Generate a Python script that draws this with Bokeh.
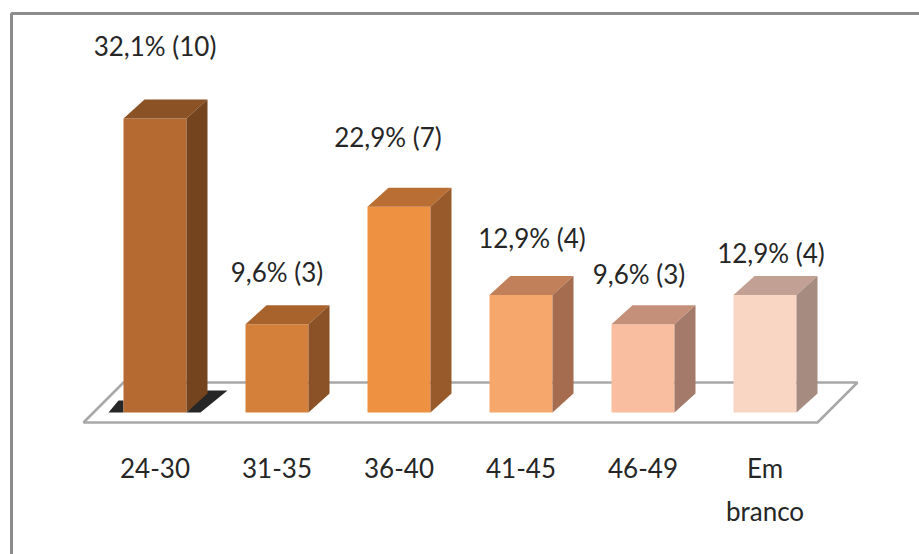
from bokeh.plotting import figure
from bokeh.models import Range1d
from bokeh.core.properties import value
from bokeh.embed import file_html
from bokeh.resources import INLINE

# ---- data ----
categories = ["24-30", "31-35", "36-40", "41-45", "46-49", "Em\nbranco"]
counts = [10, 3, 7, 4, 3, 4]
percents = [32.1, 9.6, 22.9, 12.9, 9.6, 12.9]

# ---- styles ----
front_colors = ["#B56A31", "#D4803B", "#EE9242", "#F6A76C", "#F8BE9F", "#F9D6C4"]
top_colors = ["#8B5226", "#A8632D", "#B96E33", "#C1805A", "#C49079", "#C2A194"]
side_colors = ["#74441F", "#8A5226", "#985A2B", "#A56C4F", "#A47B6B", "#A68B81"]
label_gap_px = [73, 52, 70, 57, 50, 42]
label_dx_px = [0, 0, -11, 11, -4, 6]
FONT = "Lato"
FONT_SIZE = "26px"
TEXT_COLOR = "#262626"
CAT_LABEL_PX = 467
CAT_LINE_PX = 43

W, H = 919, 554
X0_PX, STEP_PX = 154.5, 122.0
BASE_PX, PX_PER_COUNT = 412.0, 29.4

def xd(px):
    return (px - X0_PX) / STEP_PX

def yd(px):
    return (BASE_PX - px) / PX_PER_COUNT

p = figure(width=W, height=H, output_backend="svg", toolbar_location=None,
           x_range=Range1d(xd(0), xd(W)), y_range=Range1d(yd(H), yd(0)),
           min_border=0)
p.axis.visible = False
p.grid.visible = False
p.outline_line_color = None
p.background_fill_color = "white"
p.border_fill_color = "white"

# frame border (top and left)
p.line([xd(11), xd(11), xd(W + 5)], [yd(H + 5), yd(13), yd(13)],
       line_color="#8C8C8C", line_width=3)

n = len(counts)
idx = list(range(n))
hw = 31.5 / STEP_PX
dx = 21.0 / STEP_PX
dy = 19.0 / PX_PER_COUNT

# floor
fl_front = yd(BASE_PX + 10)
fl_back = yd(BASE_PX - 30)
fl_l = idx[0] - 71.5 / STEP_PX
fl_r = idx[-1] + 52.5 / STEP_PX
fdx = 40.0 / STEP_PX
p.patch([fl_l, fl_r, fl_r + fdx, fl_l + fdx], [fl_front, fl_front, fl_back, fl_back],
        fill_color="white", line_color="#A8A8A8", line_width=2.5)

# shadow around first bar
s0 = idx[0]
p.patch([s0 - hw - 15 / STEP_PX, s0 - hw, s0 - hw, s0 - hw - 5 / STEP_PX],
        [0, 0, 12 / PX_PER_COUNT, 12 / PX_PER_COUNT], fill_color="black", fill_alpha=0.85, line_color=None)
p.patch([s0 + hw, s0 + hw + 14 / STEP_PX, s0 + hw + 41 / STEP_PX, s0 + hw + 21 / STEP_PX],
        [0, 0, 22 / PX_PER_COUNT, 22 / PX_PER_COUNT], fill_color="black", fill_alpha=0.85, line_color=None)

# bars
left = [i - hw for i in idx]
right = [i + hw for i in idx]
p.quad(left=left, right=right, bottom=[0] * n, top=counts, fill_color=front_colors, line_color=None)
top_xs = [[l, r, r + dx, l + dx] for l, r in zip(left, right)]
top_ys = [[v, v, v + dy, v + dy] for v in counts]
p.patches(top_xs, top_ys, fill_color=top_colors, line_color=None)
side_xs = [[r, r + dx, r + dx, r] for r in right]
side_ys = [[0, dy, v + dy, v] for v in counts]
p.patches(side_xs, side_ys, fill_color=side_colors, line_color=None)

# value labels
labels = [f"{pc:.1f}".replace(".", ",") + f"% ({c})" for pc, c in zip(percents, counts)]
p.text(x=[i + d / STEP_PX for i, d in zip(idx, label_dx_px)],
       y=[v + g / PX_PER_COUNT for v, g in zip(counts, label_gap_px)],
       text=labels, text_align="center", text_baseline="middle",
       text_font=value(FONT), text_font_size=value(FONT_SIZE), text_color=TEXT_COLOR)

# category labels (one text per line)
cx, cy, ct = [], [], []
for i, cat in zip(idx, categories):
    for k, line in enumerate(cat.split("\n")):
        cx.append(i)
        cy.append(yd(CAT_LABEL_PX + k * CAT_LINE_PX))
        ct.append(line)
p.text(x=cx, y=cy, text=ct, text_align="center", text_baseline="middle",
       text_font=value(FONT), text_font_size=value(FONT_SIZE), text_color=TEXT_COLOR)

open("out.html", "w").write(file_html(p, INLINE))
